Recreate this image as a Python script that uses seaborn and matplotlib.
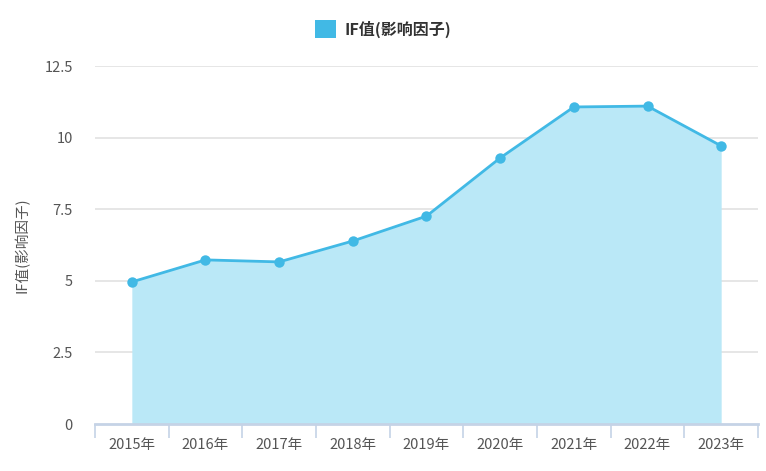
import matplotlib
matplotlib.use("Agg")
import matplotlib.pyplot as plt
import seaborn as sns
import pandas as pd
from matplotlib.patches import Patch

years = ["2015年", "2016年", "2017年", "2018年", "2019年", "2020年", "2021年", "2022年", "2023年"]
if_values = [4.96, 5.73, 5.66, 6.39, 7.26, 9.29, 11.07, 11.10, 9.71]
y_ticks = [0, 2.5, 5, 7.5, 10, 12.5]
y_tick_labels = ["0", "2.5", "5", "7.5", "10", "12.5"]
series_name = "IF值(影响因子)"

sns.set_theme(style="white")
plt.rcParams['font.family'] = ['Noto Sans CJK SC', 'DejaVu Sans']

line_color = "#41b9e5"
fill_color = "#bae8f7"

df = pd.DataFrame({"pos": range(len(years)), "value": if_values})

fig = plt.figure(figsize=(7.66, 4.71), dpi=100)
ax = fig.add_axes([95/766, 47/471, (758-95)/766, (424-66)/471])

ax.fill_between(df["pos"], 0, df["value"], color=fill_color, linewidth=0, zorder=1)
sns.lineplot(data=df, x="pos", y="value", ax=ax, color=line_color, linewidth=2,
             marker="o", markersize=7.5, markeredgewidth=0, zorder=3)

ax.set_xlim(-0.5, len(years) - 0.5)
ax.set_ylim(0, 12.5)
ax.set_yticks(y_ticks)
ax.set_yticklabels(y_tick_labels)
ax.set_xticks(range(len(years)))
ax.set_xticklabels(years)
ax.set_xticks([i - 0.5 for i in range(len(years) + 1)], minor=True)

for t in y_ticks[1:]:
    ax.axhline(t, color="#e1e1e1", linewidth=1.2, zorder=0)

for s in ["top", "right", "left"]:
    ax.spines[s].set_visible(False)
ax.spines["bottom"].set_color("#c5d3e6")
ax.spines["bottom"].set_linewidth(2)

ax.tick_params(axis="x", which="major", bottom=False, length=0, pad=10, labelsize=10.5, labelcolor="#555555")
ax.tick_params(axis="x", which="minor", bottom=True, length=10, width=1.2, color="#c5d3e6")
ax.tick_params(axis="y", length=0, pad=16, labelsize=10.5, labelcolor="#555555")

ax.set_xlabel("")
ax.set_ylabel(series_name, fontsize=10.5, color="#555555")
ax.yaxis.set_label_coords((30 - 95) / 663, (424 - 245) / 358)

handles = [Patch(facecolor=line_color, edgecolor="none", label=series_name)]
fig.legend(handles=handles, loc="center", bbox_to_anchor=(0.5, 1 - 29/471), frameon=False,
           prop={"weight": "bold", "size": 11.5, "family": ['Noto Sans CJK SC', 'DejaVu Sans']},
           handlelength=1.3, handleheight=1.3, handletextpad=0.5, labelcolor="#333333")

fig.savefig("out.png", dpi=100)
